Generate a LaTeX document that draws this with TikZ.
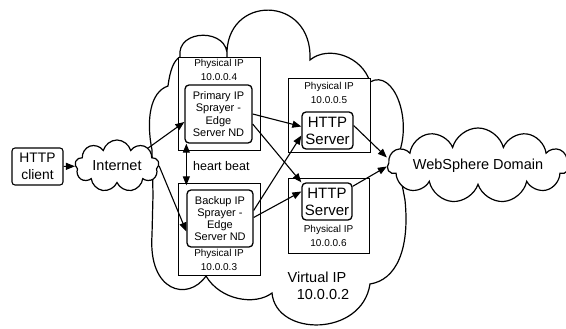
\documentclass[tikz,border=0pt]{standalone}
\usepackage{fontspec}
\setmainfont{Liberation Sans}
\usetikzlibrary{arrows.meta,shapes.symbols,positioning}

\begin{document}
\begin{tikzpicture}[x=1pt,y=-1pt,
   net/.style={cloud,cloud puffs=11,cloud ignores aspect,draw,line width=1.2pt,fill=white,inner sep=0pt,font=\fontsize{14.5}{17}\selectfont},
   hostbox/.style={draw,fill=white,line width=0.9pt,inner sep=0pt},
   procbox/.style={draw,fill=white,rounded corners=4pt,line width=1.3pt,inner sep=0pt,align=center},
   iptext/.style={align=center,inner sep=0pt,font=\fontsize{10}{14}\selectfont},
   link/.style={line width=1.1pt,-{Triangle[length=9pt,width=7pt]}},
]
   \useasboundingbox (0,0) rectangle (566,329);
   % virtual ip cloud
   \draw[line width=1.2pt] (180,57)
      .. controls (176,28) and (230,28) .. (227,57)
      .. controls (224,-6) and (313,-6) .. (310,60)
      .. controls (328,45) and (362,56) .. (370,82)
      .. controls (394,68) and (414,122) .. (397,158)
      -- (405,200)
      .. controls (410,250) and (396,280) .. (370,284)
      .. controls (362,337) and (276,337) .. (272,293)
      .. controls (255,306) and (220,300) .. (206,276)
      .. controls (188,302) and (148,292) .. (152,235)
      -- (153,195) -- (152,150)
      .. controls (146,120) and (150,92) .. (168,86)
      .. controls (170,70) and (174,60) .. (180,57) -- cycle;
   \node (vip) at (317,277) {\fontsize{14.5}{17}\selectfont Virtual IP};
   \node (vipaddr) at (323,295) {\fontsize{14.5}{17}\selectfont 10.0.0.2};
   % outside clouds
   \node[net,cloud puffs=9,minimum width=84pt,minimum height=52pt] (inet) at (117,166) {Internet};
   \node[net,minimum width=168pt,minimum height=75pt] (ws) at (478,165.5) {WebSphere Domain};
   % client
   \node[procbox,line width=1.1pt,rounded corners=3pt,minimum width=51pt,minimum height=37pt,font=\fontsize{13.8}{16.5}\selectfont] (client) at (37.5,166.5) {HTTP\\client};
   % sprayer hosts
   \node[hostbox,minimum width=82pt,minimum height=93pt] (prim) at (219,103.5) {};
   \node[iptext,below=2.4pt of prim.north] (primip) {Physical IP\\10.0.0.4};
   \node[procbox,minimum width=67pt,minimum height=58pt,font=\fontsize{11}{12.3}\selectfont] (primsp) at (218.5,114) {Primary IP\\Sprayer -\\Edge\\Server ND};
   \node[hostbox,minimum width=82pt,minimum height=92pt] (back) at (219,229) {};
   \node[iptext,above=4.4pt of back.south] (backip) {Physical IP\\10.0.0.3};
   \node[procbox,minimum width=66pt,minimum height=57pt,font=\fontsize{11}{12}\selectfont] (backsp) at (220,218.5) {Backup IP\\Sprayer -\\Edge\\Server ND};
   % http server hosts
   \node[hostbox,minimum width=82pt,minimum height=74pt] (srv1) at (329,115) {};
   \node[iptext,below=5pt of srv1.north] (srv1ip) {Physical IP\\10.0.0.5};
   \node[procbox,minimum width=51pt,minimum height=37pt,font=\fontsize{15}{17}\selectfont] (srv1in) at (327.5,130.5) {HTTP\\Server};
   \node[hostbox,minimum width=81pt,minimum height=75pt] (srv2) at (328.5,215.5) {};
   \node[iptext,above=6.4pt of srv2.south] (srv2ip) {Physical IP\\10.0.0.6};
   \node[procbox,minimum width=50pt,minimum height=37pt,font=\fontsize{15}{17}\selectfont] (srv2in) at (327,201.5) {HTTP\\Server};
   % connections
   \draw[link] (client) -- (inet);
   \draw[link] (inet.30) -- ([yshift=-8pt]primsp.west);
   \draw[link] (inet.east) -- ([yshift=-13pt]backsp.west);
   \draw[line width=1.1pt,{Triangle[length=9pt,width=7pt]}-{Triangle[length=9pt,width=7pt]},shorten >=4pt]
      (primsp.south -| backsp.west) -- (backsp.north west)
      node[midway,right=3pt,font=\fontsize{12.5}{15}\selectfont] (hb) {heart beat};
   \draw[link] (primsp.east) -- ([yshift=4pt]srv1in.west);
   \draw[link] ([yshift=-10pt]primsp.east) -- (srv2in.north west);
   \draw[link] ([yshift=8pt]backsp.east) -- ([yshift=-5pt]srv1in.west);
   \draw[link] ([yshift=1pt]backsp.east) -- ([yshift=10pt]srv2in.west);
   \draw[link] ([yshift=5pt]srv1in.east) -- ([yshift=8pt]ws.west);
   \draw[link] ([yshift=-4pt]srv2in.north east) -- ([yshift=-1pt]ws.west);
\end{tikzpicture}
\end{document}
